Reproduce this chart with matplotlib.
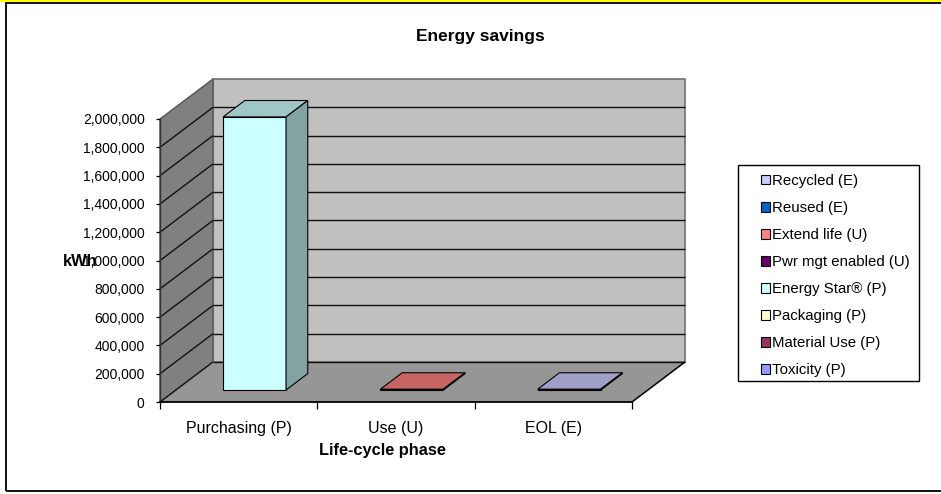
import numpy as np
import matplotlib
matplotlib.use("Agg")
import matplotlib.pyplot as plt
from matplotlib.patches import Polygon, Patch, Rectangle
from matplotlib.colors import to_rgb
from matplotlib.ticker import FuncFormatter

plt.rcParams["font.family"] = ["Liberation Sans", "DejaVu Sans"]

categories = ["Purchasing (P)", "Use (U)", "EOL (E)"]
# stacking order, bottom -> top (legend shows it reversed)
series_names = ["Toxicity (P)", "Material Use (P)", "Packaging (P)", "Energy Star\u00ae (P)",
                "Pwr mgt enabled (U)", "Extend life (U)", "Reused (E)", "Recycled (E)"]
series_colors = ["#9999FF", "#993366", "#FFFFCC", "#CCFFFF",
                 "#660066", "#FF8080", "#0066CC", "#CCCCFF"]
toxicity = [0, 0, 0]
material_use = [0, 0, 0]
packaging = [0, 0, 0]
energy_star = [1930000, 0, 0]
pwr_mgt = [0, 0, 0]
extend_life = [0, 6000, 0]
reused = [0, 0, 0]
recycled = [0, 0, 6000]
series_values = [toxicity, material_use, packaging, energy_star,
                 pwr_mgt, extend_life, reused, recycled]
yticks = np.arange(0, 2000001, 200000)
ymax = 2000000

W, H = 941, 494
fig = plt.figure(figsize=(W / 100, H / 100), dpi=100)
fig.patch.set_facecolor("white")

# outer chart frame + yellow strip on top
fig.patches.append(Rectangle((0, 1 - 2.5 / H), 1, 2.5 / H, transform=fig.transFigure,
                             facecolor="#FFFF00", edgecolor="none", zorder=0))
fig.patches.append(Rectangle((5.5 / W, 1 - 490.5 / H), 1.05, 487.5 / H, transform=fig.transFigure,
                             facecolor="none", edgecolor="black", lw=1.3, zorder=0))

# front plane of the 3D box
x0_px, x1_px, y0_px, y1_px = 160, 632, 402, 119
ax = fig.add_axes([x0_px / W, (H - y0_px) / H, (x1_px - x0_px) / W, (y0_px - y1_px) / H])
ax.set_xlim(0, len(categories))
ax.set_ylim(0, ymax)
ax.patch.set_visible(False)

# depth offset (oblique projection) in data units
DX = 53 / (x1_px - x0_px) * len(categories)
DY = 40 / (y0_px - y1_px) * ymax


def proj(x, v, d):
    return (x + DX * d, v + DY * d)


def poly(pts, fc, ec="black", lw=0.8, z=1):
    ax.add_patch(Polygon(pts, closed=True, facecolor=fc, edgecolor=ec, lw=lw,
                         clip_on=False, zorder=z, joinstyle="miter"))


def line(p, q, color="black", lw=0.9, z=2):
    ax.plot([p[0], q[0]], [p[1], q[1]], color=color, lw=lw, clip_on=False, zorder=z,
            solid_capstyle="butt")


def shade(color, f):
    return tuple(c * f for c in to_rgb(color))


n = len(categories)
# walls and floor
poly([proj(0, 0, 1), proj(n, 0, 1), proj(n, ymax, 1), proj(0, ymax, 1)], "#C0C0C0", "#707070", 1.2, 1)
poly([proj(0, 0, 0), proj(0, 0, 1), proj(0, ymax, 1), proj(0, ymax, 0)], "#808080", "#555555", 1.0, 1)
poly([proj(0, 0, 0), proj(n, 0, 0), proj(n, 0, 1), proj(0, 0, 1)], "#969696", "none", 0, 1)

for v in yticks[:-1]:
    line(proj(0, v, 1), proj(n, v, 1), "#111111", 1.0)
    line(proj(0, v, 0), proj(0, v, 1), "#111111", 1.0)
line(proj(n, 0, 0), proj(n, 0, 1), "black", 1.1, 3)

# stacked 3D columns
bw, d0, d1 = 0.4, 0.3, 0.71
for i in range(n):
    base = 0
    for name, color, vals in zip(series_names, series_colors, series_values):
        v = vals[i]
        if v <= 0:
            continue
        xa, xb = i + 0.5 - bw / 2, i + 0.5 + bw / 2
        top = base + v
        poly([proj(xa, base, d0), proj(xb, base, d0), proj(xb, top, d0), proj(xa, top, d0)],
             color, "black", 0.8, 5)
        poly([proj(xa, top, d0), proj(xb, top, d0), proj(xb, top, d1), proj(xa, top, d1)],
             shade(color, 0.78), "black", 0.8, 5)
        poly([proj(xb, base, d0), proj(xb, base, d1), proj(xb, top, d1), proj(xb, top, d0)],
             shade(color, 0.64), "black", 0.8, 5)
        base = top

# axes
for s in ["top", "right"]:
    ax.spines[s].set_visible(False)
ax.spines["left"].set_color("#333333")
ax.spines["left"].set_linewidth(1.0)
ax.spines["bottom"].set_color("black")
ax.spines["bottom"].set_linewidth(1.3)
ax.spines["bottom"].set_zorder(4)

ax.set_yticks(yticks)
ax.yaxis.set_major_formatter(FuncFormatter(lambda v, p: f"{v:,.0f}"))
ax.tick_params(axis="y", direction="out", length=3, width=0.9, pad=8, labelsize=10, colors="black")

ax.set_xticks(np.arange(n + 1))
ax.set_xticklabels([])
ax.set_xticks(np.arange(n) + 0.5, minor=True)
ax.set_xticklabels(categories, minor=True)
ax.tick_params(axis="x", which="major", direction="out", length=5, width=0.9)
ax.tick_params(axis="x", which="minor", length=0, pad=14, labelsize=11.5)

fig.text(480 / W, 1 - 37 / H, "Energy savings", ha="center", va="center",
         fontsize=12.5, fontweight="bold")
fig.text(382 / W, 1 - 450 / H, "Life-cycle phase", ha="center", va="center",
         fontsize=11.8, fontweight="bold")
fig.text(80 / W, 1 - 262 / H, "kWh", ha="center", va="center",
         fontsize=11.8, fontweight="bold")

# legend: entries without frame, frame drawn as a plain box
handles = [Patch(facecolor=c, edgecolor="black", lw=0.8, label=nm)
           for nm, c in zip(series_names, series_colors)][::-1]
leg = fig.legend(handles=handles, loc="upper left", bbox_to_anchor=(761 / W, 1 - 174 / H),
                 fontsize=10.8, frameon=False, borderaxespad=0, borderpad=0,
                 handlelength=0.6, handleheight=0.6, handletextpad=0.12,
                 labelspacing=0.87)
fig.patches.append(Rectangle((738 / W, 1 - 381 / H), 181 / W, 216 / H, transform=fig.transFigure,
                             facecolor="none", edgecolor="black", lw=1.0, zorder=1))

fig.savefig("out.png", dpi=100)
